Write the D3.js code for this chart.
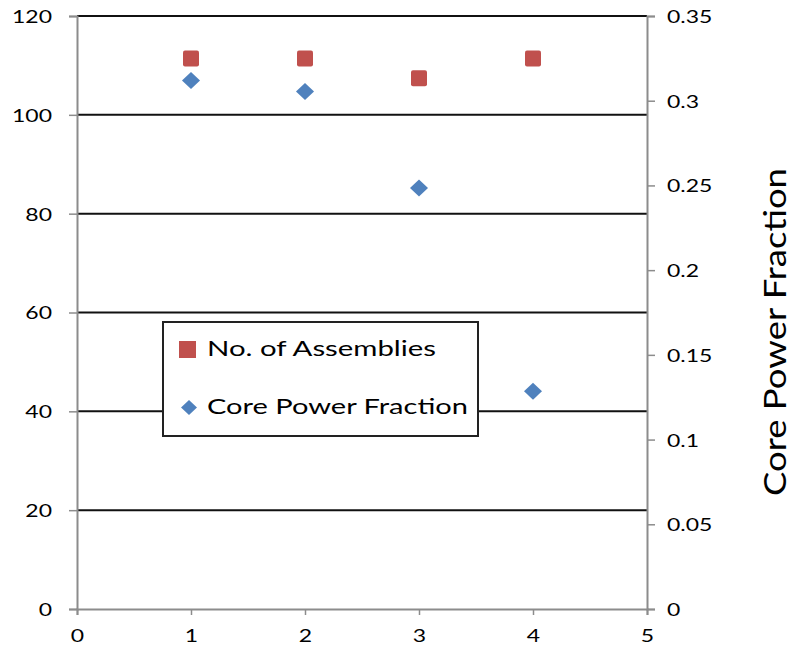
<!DOCTYPE html>
<html><head><meta charset="utf-8">
<script src="https://cdn.jsdelivr.net/npm/d3@7"></script>
<style>body{margin:0;background:#fff}svg{display:block}text{font-family:Lato,"Open Sans",sans-serif}</style>
</head><body>
<svg id="chart" width="794" height="648"></svg>
<script>
const xValues = [1, 2, 3, 4];
const assemblies = [111.4, 111.4, 107.4, 111.4];
const corePower = [0.312, 0.3055, 0.2485, 0.1285];
const xTicks = [0, 1, 2, 3, 4, 5];
const leftTicks = [0, 20, 40, 60, 80, 100, 120];
const rightTicks = [0, 0.05, 0.1, 0.15, 0.2, 0.25, 0.3, 0.35];
const seriesNames = ["No. of Assemblies", "Core Power Fraction"];
const rightTitle = "Core Power Fraction";

const svg = d3.select("#chart");
const L = 77, R = 647, T = 16, B = 609;
const x = d3.scaleLinear().domain([0, 5]).range([L, R]);
const yL = d3.scaleLinear().domain([0, 120]).range([B, T]);
const yR = d3.scaleLinear().domain([0, 0.35]).range([B, T]);
const axisGray = "#8c8c8c";

// gridlines
svg.append("g").selectAll("line").data(leftTicks.filter(d => d > 0)).join("line")
  .attr("x1", L).attr("x2", R).attr("y1", d => yL(d)).attr("y2", d => yL(d))
  .attr("stroke", "#111").attr("stroke-width", 2);

const gL = svg.append("g").attr("transform", `translate(${L},0)`)
  .call(d3.axisLeft(yL).tickValues(leftTicks).tickSize(8).tickFormat(d3.format("d")));
const gR = svg.append("g").attr("transform", `translate(${R},0)`)
  .call(d3.axisRight(yR).tickValues(rightTicks).tickSize(8).tickFormat(d => String(+d.toFixed(2))));
const gB = svg.append("g").attr("transform", `translate(0,${B})`)
  .call(d3.axisBottom(x).tickValues(xTicks).tickSize(6).tickFormat(d3.format("d")));

[gL, gR, gB].forEach(g => {
  g.select(".domain").attr("stroke", axisGray).attr("stroke-width", 2);
  g.selectAll(".tick line").attr("stroke", axisGray).attr("stroke-width", 1.5);
  g.selectAll(".tick text").attr("fill", "#000").style("font-size", "18px").attr("font-family", null);
});
const probe = gL.selectAll(".tick text").filter(d => d === 120).node();
const sx = 40 / probe.getComputedTextLength();
gL.selectAll(".tick text").attr("text-anchor", "end").attr("x", -25 / sx).attr("dy", "0.36em")
  .attr("transform", `scale(${sx},1)`);
gR.selectAll(".tick text").attr("text-anchor", "start").attr("x", 20 / sx).attr("dy", "0.36em")
  .attr("transform", `scale(${sx},1)`);
gB.selectAll(".tick text").attr("text-anchor", "middle").attr("x", 0).attr("y", 27).attr("dy", "0.36em")
  .attr("transform", `scale(${sx},1)`);

// markers
const sq = 16;
svg.append("g").selectAll("rect").data(xValues).join("rect")
  .attr("x", (d) => x(d) - sq / 2).attr("y", (d, i) => yL(assemblies[i]) - sq / 2)
  .attr("width", sq).attr("height", sq).attr("rx", 2)
  .attr("fill", "#C0504D");
const diamond = (cx, cy, w, h) => `M${cx},${cy - h / 2}L${cx + w / 2},${cy}L${cx},${cy + h / 2}L${cx - w / 2},${cy}Z`;
svg.append("g").selectAll("path").data(xValues).join("path")
  .attr("d", (d, i) => diamond(x(d), yR(corePower[i]), 18, 17))
  .attr("fill", "#4F81BD");

// legend
const lg = svg.append("g");
lg.append("rect").attr("x", 163).attr("y", 322).attr("width", 315).attr("height", 114)
  .attr("fill", "#fff").attr("stroke", "#222").attr("stroke-width", 2);
lg.append("rect").attr("x", 179).attr("y", 341).attr("width", 17).attr("height", 17).attr("fill", "#C0504D");
lg.append("path").attr("d", diamond(189, 407.5, 16, 15)).attr("fill", "#4F81BD");
lg.append("text").attr("x", 207).attr("y", 356).style("font-size", "22px").attr("fill", "#000")
  .attr("textLength", 229).attr("lengthAdjust", "spacingAndGlyphs").text(seriesNames[0]);
lg.append("text").attr("x", 207).attr("y", 414).style("font-size", "22px").attr("fill", "#000")
  .attr("textLength", 261).attr("lengthAdjust", "spacingAndGlyphs").text(seriesNames[1]);

// right title
svg.append("text").attr("transform", "translate(786,332) rotate(-90)")
  .attr("text-anchor", "middle").style("font-size", "30px").attr("fill", "#000")
  .attr("textLength", 328).attr("lengthAdjust", "spacingAndGlyphs").text(rightTitle);
</script>
</body></html>
